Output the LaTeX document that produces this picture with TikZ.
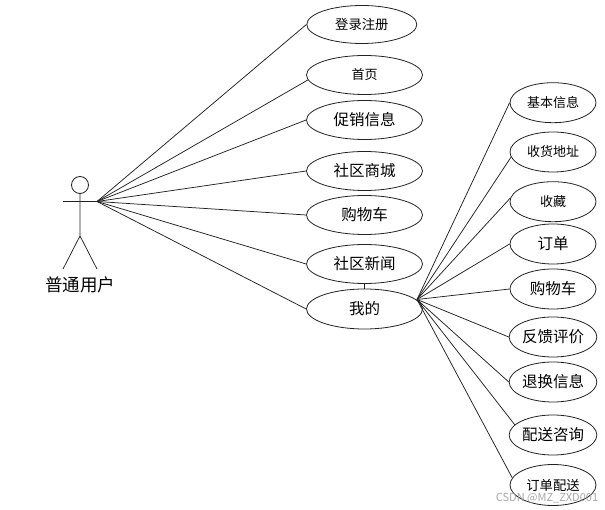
\documentclass[tikz,border=0pt]{standalone}
\usepackage{fontspec}
\setmainfont{Noto Sans CJK SC}
\usetikzlibrary{shapes.geometric}
\definecolor{ln}{HTML}{222222}
\tikzset{
  x=1pt,y=-1pt,
  uc/.style={ellipse,draw=ln,line width=0.8pt,inner sep=0pt,minimum width=116pt,minimum height=39pt,text=black},
  ucr/.style={uc,minimum width=86pt,minimum height=40pt},
  link/.style={draw=ln,line width=0.75pt},
  fa/.style={font=\fontsize{13}{15}\selectfont},
  fb/.style={font=\fontsize{13.3}{16}\selectfont},
  fc/.style={font=\fontsize{15.5}{18}\selectfont},
}
\begin{document}
\begin{tikzpicture}
\useasboundingbox (0,0) rectangle (605,510);
% actor
\node[circle,draw=ln,line width=0.8pt,minimum size=17pt,inner sep=0pt] (head) at (80,185) {};
\coordinate (waist) at (80,236);
\coordinate (lhand) at (63,201.5);
\coordinate (hand) at (97,201.5);
\coordinate (lfoot) at (63,269);
\coordinate (rfoot) at (97,269);
\draw[link] (head.south) -- (waist) -- (lfoot) (waist) -- (rfoot) (lhand) -- (hand);
\node[font=\fontsize{17.5}{20}\selectfont] (actor) at (80,285) {普通用户};
% left use cases
\node[uc,minimum width=110pt,minimum height=38pt,fb] (a1) at (361.8,24.5) {登录注册};
\node[uc,fa] (a2) at (364.5,75) {首页};
\node[uc,fc] (a3) at (364.5,120) {促销信息};
\node[uc,fc] (a4) at (364.5,171) {社区商城};
\node[uc,fc] (a5) at (364.5,215) {购物车};
\node[uc,fc] (a6) at (364.5,264) {社区新闻};
\node[uc,fc,minimum height=40pt] (a7) at (364.5,309) {我的};
\draw[link] (hand) -- (a1.west);
\draw[link] (hand) -- (a2.185);
\draw[link] (hand) -- (a3.west);
\draw[link] (hand) -- (a4.west);
\draw[link] (hand) -- (a5.west);
\draw[link] (hand) -- (a6.west);
\draw[link] (hand) -- (a7.west);
\draw[link] (a6.south) -- (a7.north);
% right use cases
\coordinate (hub) at (417,299.5);
\node[ucr,fa] (b1) at (553,102.7) {基本信息};
\node[ucr,fa] (b2) at (553,152) {收货地址};
\node[ucr,fa] (b3) at (553,201.7) {收藏};
\node[ucr,fc] (b4) at (553,244) {订单};
\node[ucr,fc] (b5) at (553,289) {购物车};
\node[ucr,fc] (b6) at (553,337) {反馈评价};
\node[ucr,fc] (b7) at (553,382) {退换信息};
\node[ucr,fc] (b8) at (553,435) {配送咨询};
\node[ucr,fb,minimum height=41pt] (b9) at (553,485) {订单配送};
\draw[link] (hub) -- (b1.west);
\draw[link] (hub) -- (b2.187);
\draw[link] (hub) -- (b3.175);
\draw[link] (hub) -- (b4.west);
\draw[link] (hub) -- (b5.west);
\draw[link] (hub) -- (b6.west);
\draw[link] (hub) -- (b7.west);
\draw[link] (hub) -- (b8.165);
\draw[link] (hub) -- (b9.170);
\node[text=black!38,font=\fontsize{11}{13}\selectfont,opacity=0.9] (wm) at (547,498) {CSDN @MZ\_ZXD001};
\end{tikzpicture}
\end{document}
